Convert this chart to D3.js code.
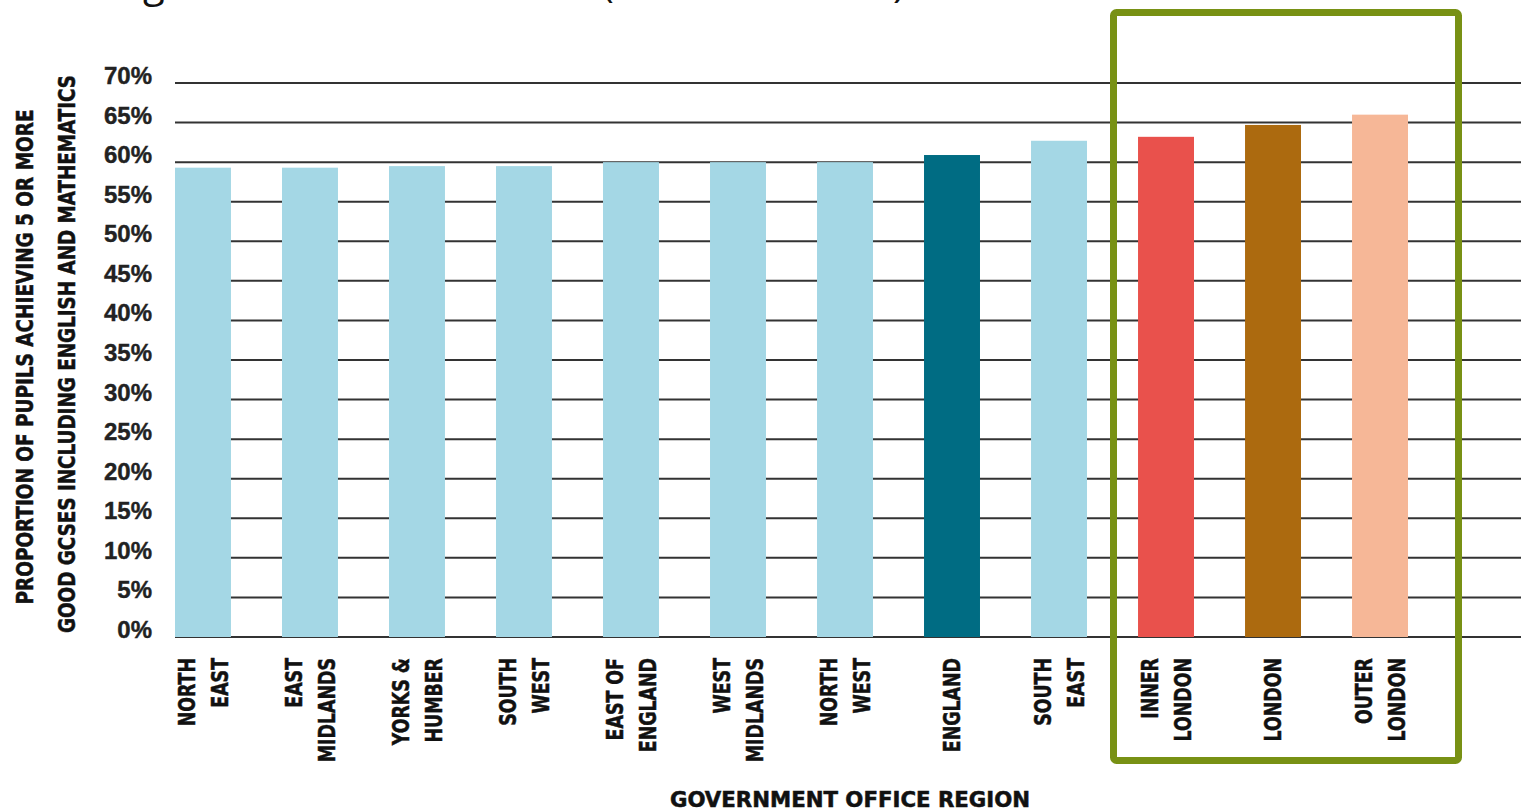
<!DOCTYPE html>
<html>
<head>
<meta charset="utf-8">
<script src="https://cdn.jsdelivr.net/npm/d3@7"></script>
<style>
  html, body { margin: 0; padding: 0; background: #fff; }
  svg { display: block; }
  .cond { font-family: "Liberation Sans Narrow", "DejaVu Sans Condensed", "Arial Narrow", sans-serif; font-weight: bold; stroke: #111; stroke-width: 0.5px; }
</style>
</head>
<body>
<svg id="chart" width="1521" height="809"></svg>
<script>
// ---- data ----
const categories = [
  ["NORTH", "EAST"],
  ["EAST", "MIDLANDS"],
  ["YORKS &", "HUMBER"],
  ["SOUTH", "WEST"],
  ["EAST OF", "ENGLAND"],
  ["WEST", "MIDLANDS"],
  ["NORTH", "WEST"],
  ["ENGLAND"],
  ["SOUTH", "EAST"],
  ["INNER", "LONDON"],
  ["LONDON"],
  ["OUTER", "LONDON"]
];
const values = [59.3, 59.3, 59.5, 59.5, 60.0, 60.0, 60.0, 60.9, 62.7, 63.2, 64.7, 66.0];
const barColors = ["#a4d7e5", "#a4d7e5", "#a4d7e5", "#a4d7e5", "#a4d7e5", "#a4d7e5", "#a4d7e5",
                   "#006c83", "#a4d7e5", "#e9514c", "#ac6a0f", "#f6b797"];
const yTicks = [0, 5, 10, 15, 20, 25, 30, 35, 40, 45, 50, 55, 60, 65, 70];
const yTitle = ["PROPORTION OF PUPILS ACHIEVING 5 OR MORE", "GOOD GCSES INCLUDING ENGLISH AND MATHEMATICS"];
const xTitle = "GOVERNMENT OFFICE REGION";
const titleFragments = [["g", 143], ["(", 602], [")", 893]];

// ---- layout ----
const svg = d3.select("#chart");
const keys = categories.map(c => c.join(" "));
const x = d3.scaleBand().domain(keys).range([175, 1408]).paddingInner(0.477).paddingOuter(0);
const y = d3.scaleLinear().domain([0, 70]).range([637, 83]);
const squeeze = 0.84;

// partial (cropped) title, as in the reference
svg.selectAll("text.title").data(titleFragments).join("text")
  .attr("class", "title")
  .attr("x", d => d[1]).attr("y", -3)
  .attr("font-family", "Open Sans, sans-serif")
  .attr("font-size", 40)
  .attr("fill", "#111")
  .text(d => d[0]);

// grid lines
svg.append("g").selectAll("line").data(yTicks).join("line")
  .attr("x1", 175).attr("x2", 1521)
  .attr("y1", d => y(d)).attr("y2", d => y(d))
  .attr("stroke", "#333").attr("stroke-width", 2);

// y tick labels
svg.append("g").selectAll("text").data(yTicks).join("text")
  .attr("x", 152).attr("y", d => y(d) + 1)
  .attr("text-anchor", "end")
  .attr("font-family", "Liberation Sans, Arial, sans-serif")
  .attr("font-weight", "bold")
  .attr("font-size", 24)
  .attr("fill", "#222")
  .attr("stroke", "#222").attr("stroke-width", 0.4)
  .text(d => d + "%");

// bars
svg.append("g").selectAll("rect").data(values).join("rect")
  .attr("x", (d, i) => x(keys[i]))
  .attr("width", x.bandwidth())
  .attr("y", d => y(d))
  .attr("height", d => y(0) - y(d))
  .attr("fill", (d, i) => barColors[i]);

// x labels
const lab = svg.append("g").selectAll("g").data(categories).join("g")
  .attr("transform", (d, i) => `translate(${x(keys[i]) + x.bandwidth() / 2},658) rotate(-90)`);
lab.each(function(lines) {
  const g = d3.select(this);
  const n = lines.length;
  lines.forEach((t, j) => {
    const el = g.append("text")
      .attr("class", "cond")
      .attr("x", 0)
      .attr("y", (j - (n - 1) / 2) * 33)
      .attr("dy", "0.35em")
      .attr("text-anchor", "end")
      .attr("font-size", 23)
      .attr("fill", "#111")
      .text(t);
    const w = el.node().getComputedTextLength();
    el.attr("textLength", w * squeeze).attr("lengthAdjust", "spacingAndGlyphs");
  });
});

// y axis title
svg.append("g").selectAll("text").data(yTitle).join("text")
  .attr("class", "cond")
  .attr("transform", (d, i) => `translate(${i === 0 ? 25 : 67},${i === 0 ? 357 : 354}) rotate(-90)`)
  .attr("text-anchor", "middle")
  .attr("dy", "0.35em")
  .attr("font-size", 23)
  .attr("fill", "#111")
  .attr("textLength", (d, i) => i === 0 ? 495 : 558)
  .attr("lengthAdjust", "spacingAndGlyphs")
  .text(d => d);

// x axis title
svg.append("text")
  .attr("class", "cond")
  .attr("x", 850).attr("y", 807)
  .attr("text-anchor", "middle")
  .attr("font-size", 22)
  .attr("fill", "#111")
  .attr("textLength", 360)
  .attr("lengthAdjust", "spacingAndGlyphs")
  .text(xTitle);

// highlight box
svg.append("rect")
  .attr("x", 1113.5).attr("y", 12.5)
  .attr("width", 1458.5 - 1113.5).attr("height", 760.5 - 12.5)
  .attr("rx", 3)
  .attr("fill", "none")
  .attr("stroke", "#789114")
  .attr("stroke-width", 7);
</script>
</body>
</html>
